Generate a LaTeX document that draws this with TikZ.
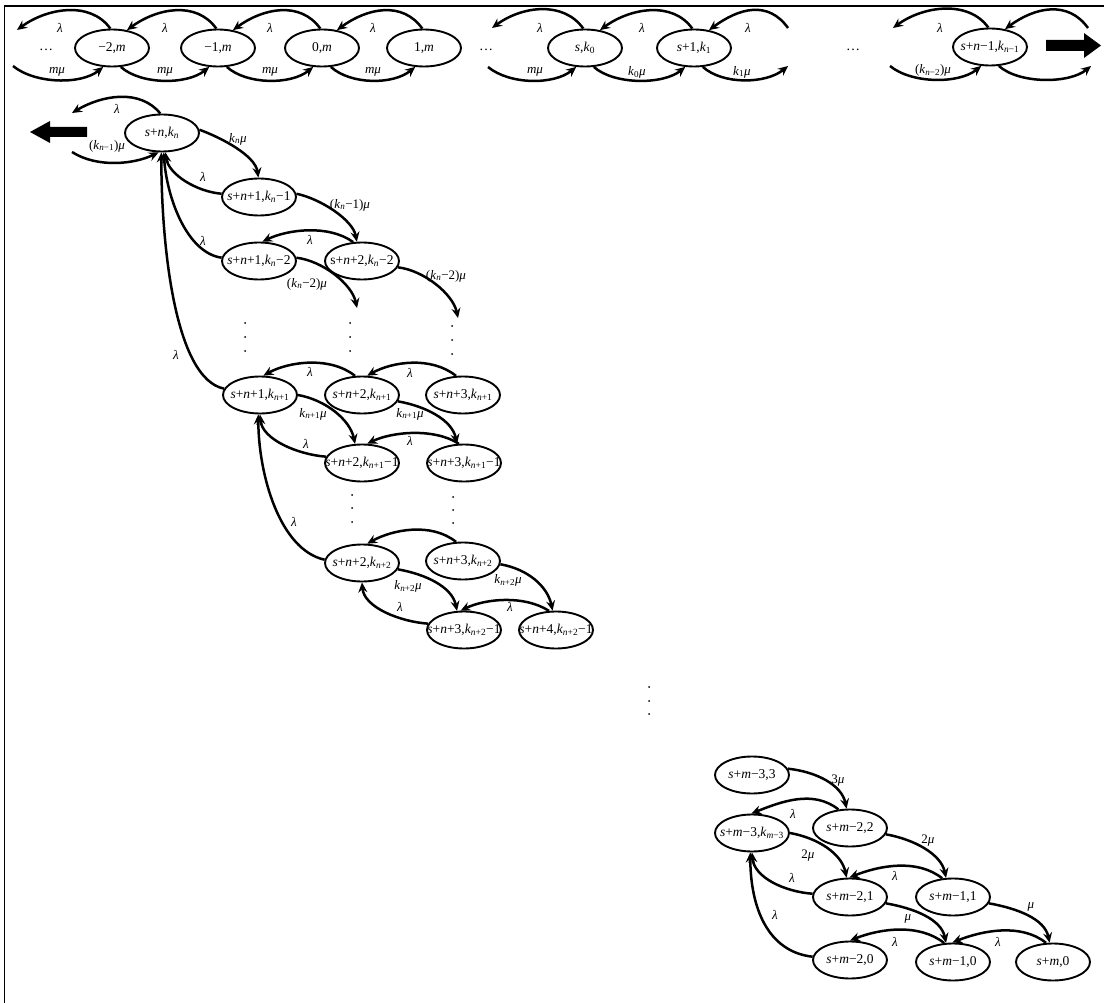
\documentclass[tikz,border=0pt]{standalone}
\usepackage{fontspec}
\setmainfont{Liberation Serif}
\usetikzlibrary{arrows.meta,shapes.geometric}
\newcommand{\iv}[1]{\textit{#1}}
\newcommand{\sbs}[1]{\textsubscript{#1}}
\newcommand{\lmb}{\textit{λ}}
\newcommand{\mmu}{\textit{μ}}
\newcommand{\nt}[1]{\makebox[0pt]{#1}}
\begin{document}
\begin{tikzpicture}[x=1pt,y=-1pt,
  st/.style={ellipse, draw, line width=1.9pt, minimum width=74pt, minimum height=37pt, inner sep=0pt, font=\fontsize{13.5}{15}\selectfont},
  ar/.style={line width=2.5pt, -{Stealth[length=10pt,width=9pt,inset=3.5pt]}},
  lb/.style={font=\fontsize{13}{15}\selectfont, inner sep=0pt},
  dt/.style={circle, fill, inner sep=0pt, minimum size=2pt},
  hd/.style={font=\fontsize{14}{15}\selectfont, inner sep=0pt}]
\useasboundingbox (0,0) rectangle (1104,1003);
\draw[line width=1.4pt] (4.5,1003) -- (4.5,6) -- (1104,6);

% ---------- top row ----------
\node[st] (T1) at (112,48) {\nt{−2,\iv{m}}};
\node[st] (T2) at (218,48) {\nt{−1,\iv{m}}};
\node[st] (T3) at (322,48) {\nt{0,\iv{m}}};
\node[st] (T4) at (424,48) {\nt{1,\iv{m}}};
\node[st] (T5) at (585,48) {\nt{\iv{s},\iv{k}\sbs{0}}};
\node[st] (T6) at (694,48) {\nt{\iv{s}+1,\iv{k}\sbs{1}}};
\node[st] (T7) at (990,47) {\nt{\iv{s}+\iv{n}−1,\iv{k}\sbs{\iv{n}−1}}};
\node[hd] (d1) at (46,50) {…};
\node[hd] (d2) at (486,50) {…};
\node[hd] (d3) at (853,50) {…};

\coordinate (f1) at (17,30);  \coordinate (f2) at (13,66);
\coordinate (f3) at (492,28); \coordinate (f4) at (488,67);
\coordinate (f5) at (788,28); \coordinate (f6) at (788,66);
\coordinate (f7) at (893,28); \coordinate (f8) at (890,66);
\coordinate (f9) at (1088,28); \coordinate (f10) at (1091,66);

\draw[ar] (T1.95) .. controls +(-20,-28) and +(30,-22) .. (f1);
\draw[ar] (f2) .. controls +(22,18) and +(-22,18) .. (T1.-115);
\draw[ar] (T2.95) .. controls +(-20,-28) and +(30,-22) .. (T1.50);
\draw[ar] (T1.-65) .. controls +(20,18) and +(-22,18) .. (T2.-115);
\draw[ar] (T3.95) .. controls +(-20,-28) and +(30,-22) .. (T2.50);
\draw[ar] (T2.-65) .. controls +(20,18) and +(-22,18) .. (T3.-115);
\draw[ar] (T4.95) .. controls +(-20,-28) and +(30,-22) .. (T3.50);
\draw[ar] (T3.-65) .. controls +(20,18) and +(-22,18) .. (T4.-115);
\draw[ar] (T5.95) .. controls +(-20,-28) and +(30,-22) .. (f3);
\draw[ar] (f4) .. controls +(22,18) and +(-22,18) .. (T5.-115);
\draw[ar] (T6.95) .. controls +(-20,-28) and +(30,-22) .. (T5.50);
\draw[ar] (T5.-65) .. controls +(20,18) and +(-22,18) .. (T6.-115);
\draw[ar] (f5) .. controls +(-20,-28) and +(30,-22) .. (T6.50);
\draw[ar] (T6.-65) .. controls +(20,18) and +(-22,18) .. (f6);
\draw[ar] (T7.95) .. controls +(-20,-28) and +(30,-22) .. (f7);
\draw[ar] (f8) .. controls +(22,18) and +(-22,18) .. (T7.-115);
\draw[ar] (f9) .. controls +(-20,-28) and +(30,-22) .. (T7.50);
\draw[ar] (T7.-65) .. controls +(20,18) and +(-22,18) .. (f10);

\node[lb] (l1) at (60,28) {\lmb};
\node[lb] (l2) at (57,72) {\iv{m}\mmu};
\node[lb] (l3) at (165,28) {\lmb};
\node[lb] (l4) at (165,72) {\iv{m}\mmu};
\node[lb] (l5) at (270,28) {\lmb};
\node[lb] (l6) at (270,72) {\iv{m}\mmu};
\node[lb] (l7) at (373,28) {\lmb};
\node[lb] (l8) at (373,72) {\iv{m}\mmu};
\node[lb] (l9) at (540,28) {\lmb};
\node[lb] (l10) at (535,72) {\iv{m}\mmu};
\node[lb] (l11) at (642,28) {\lmb};
\node[lb] (l12) at (637,72) {\iv{k}\sbs{0}\mmu};
\node[lb] (l13) at (748,28) {\lmb};
\node[lb] (l14) at (742,72) {\iv{k}\sbs{1}\mmu};
\node[lb] (l15) at (940,28) {\lmb};
\node[lb] (l16) at (933,70) {(\iv{k}\sbs{\iv{n}−2})\mmu};

\fill (1046,40) -- (1084,40) -- (1084,33) -- (1101,45.5) -- (1084,58) -- (1084,51) -- (1046,51) -- cycle;
\fill (87,127) -- (50,127) -- (50,121) -- (30,132) -- (50,143) -- (50,137) -- (87,137) -- cycle;

% ---------- middle ----------
\node[st] (M0) at (162,133) {\nt{\iv{s}+\iv{n},\iv{k}\sbs{\iv{n}}}};
\node[st] (A1) at (259,197) {\nt{\iv{s}+\iv{n}+1,\iv{k}\sbs{\iv{n}}−1}};
\node[st] (A2) at (259,261) {\nt{\iv{s}+\iv{n}+1,\iv{k}\sbs{\iv{n}}−2}};
\node[st] (B2) at (362,261) {\nt{s+\iv{n}+2,\iv{k}\sbs{\iv{n}}−2}};
\node[st] (C1) at (260,395) {\nt{\iv{s}+\iv{n}+1,\iv{k}\sbs{\iv{n}+1}}};
\node[st] (C2) at (362,395) {\nt{\iv{s}+\iv{n}+2,\iv{k}\sbs{\iv{n}+1}}};
\node[st] (C3) at (463,395) {\nt{\iv{s}+\iv{n}+3,\iv{k}\sbs{\iv{n}+1}}};
\node[st] (D2) at (362,463) {\nt{\iv{s}+\iv{n}+2,\iv{k}\sbs{\iv{n}+1}−1}};
\node[st] (D3) at (464,463) {\nt{\iv{s}+\iv{n}+3,\iv{k}\sbs{\iv{n}+1}−1}};
\node[st] (E2) at (362,563) {\nt{\iv{s}+\iv{n}+2,\iv{k}\sbs{\iv{n}+2}}};
\node[st] (E3) at (463,561) {\nt{\iv{s}+\iv{n}+3,\iv{k}\sbs{\iv{n}+2}}};
\node[st] (F3) at (464,630) {\nt{\iv{s}+\iv{n}+3,\iv{k}\sbs{\iv{n}+2}−1}};
\node[st] (F4) at (556,630) {\nt{\iv{s}+\iv{n}+4,\iv{k}\sbs{\iv{n}+2}−1}};

\coordinate (g1) at (72,113); \coordinate (g2) at (72,152);
\coordinate (g3) at (357,308); \coordinate (g4) at (458,318);

\draw[ar] (M0.95) .. controls +(-20,-25) and +(30,-18) .. (g1);
\draw[ar] (g2) .. controls +(25,16) and +(-25,12) .. (M0.-100);
\draw[ar] (M0.5) .. controls +(22,8) and +(-3,-22) .. (A1.92);
\draw[ar] (A1.175) .. controls +(-25,-2) and +(3,22) .. (M0.-80);
\draw[ar] (A2.175) .. controls +(-35,-5) and +(3,45) .. (M0.-85);
\draw[ar] (C1.170) .. controls +(-50,-10) and +(0,90) .. (M0.-92);
\draw[ar] (A1.5) .. controls +(24,5) and +(-4,-22) .. (B2.105);
\draw[ar] (B2.115) .. controls +(-25,-18) and +(25,-12) .. (A2.80);
\draw[ar] (A2.5) .. controls +(26,3) and +(-5,-24) .. (g3);
\draw[ar] (B2.-10) .. controls +(26,3) and +(-5,-24) .. (g4);
\draw[ar] (C2.110) .. controls +(-25,-20) and +(25,-14) .. (C1.80);
\draw[ar] (C3.110) .. controls +(-25,-20) and +(25,-14) .. (C2.75);
\draw[ar] (C1.0) .. controls +(28,5) and +(-5,-24) .. (D2.110);
\draw[ar] (C2.-10) .. controls +(28,5) and +(-5,-24) .. (D3.110);
\draw[ar] (D3.105) .. controls +(-25,-16) and +(25,-12) .. (D2.75);
\draw[ar] (D2.170) .. controls +(-28,-2) and +(2,25) .. (C1.-90);
\draw[ar] (E2.175) .. controls +(-45,-10) and +(0,60) .. (C1.-95);
\draw[ar] (E3.110) .. controls +(-25,-20) and +(25,-14) .. (E2.75);
\draw[ar] (E2.-10) .. controls +(28,5) and +(-5,-24) .. (F3.110);
\draw[ar] (E3.-5) .. controls +(28,5) and +(-5,-24) .. (F4.100);
\draw[ar] (F4.110) .. controls +(-25,-16) and +(25,-12) .. (F3.100);
\draw[ar] (F3.170) .. controls +(-28,-2) and +(2,25) .. (E2.-90);

\node[lb] (m1) at (117,109) {\lmb};
\node[lb] (m2) at (107,146) {(\iv{k}\sbs{\iv{n}−1})\mmu};
\node[lb] (m3) at (238,139) {\iv{k}\sbs{\iv{n}}\mmu};
\node[lb] (m4) at (203,177) {\lmb};
\node[lb] (m5) at (203,241) {\lmb};
\node[lb] (m6) at (176,355) {\lmb};
\node[lb] (m7) at (350,205) {(\iv{k}\sbs{\iv{n}}−1)\mmu};
\node[lb] (m8) at (310,240) {\lmb};
\node[lb] (m9) at (307,284) {(\iv{k}\sbs{\iv{n}}−2)\mmu};
\node[lb] (m10) at (446,276) {(\iv{k}\sbs{\iv{n}}−2)\mmu};
\node[lb] (m11) at (310,372) {\lmb};
\node[lb] (m12) at (410,373) {\lmb};
\node[lb] (m13) at (313,414) {\iv{k}\sbs{\iv{n}+1}\mmu};
\node[lb] (m14) at (410,414) {\iv{k}\sbs{\iv{n}+1}\mmu};
\node[lb] (m15) at (410,441) {\lmb};
\node[lb] (m16) at (306,444) {\lmb};
\node[lb] (m17) at (294,522) {\lmb};
\node[lb] (m18) at (408,586) {\iv{k}\sbs{\iv{n}+2}\mmu};
\node[lb] (m19) at (508,580) {\iv{k}\sbs{\iv{n}+2}\mmu};
\node[lb] (m20) at (510,607) {\lmb};
\node[lb] (m21) at (400,607) {\lmb};

% vertical dots
\foreach \n/\x/\y in {a/245/323, b/245/337, c/245/351,
                      d/350/323, e/350/337, f/350/351,
                      g/452/326, h/452/340, i/452/354,
                      j/352/495, k/352/508, l/352/522,
                      m/453/497, n/453/510, o/453/523,
                      p/649/687, q/649/701, r/649/714}
  \node[dt] (v\n) at (\x,\y) {};

% ---------- bottom right ----------
\node[st] (G1) at (752,775) {\nt{\iv{s}+\iv{m}−3,3}};
\node[st] (G2) at (752,833) {\nt{\iv{s}+\iv{m}−3,\iv{k}\sbs{\iv{m}−3}}};
\node[st] (H1) at (850,828) {\nt{\iv{s}+\iv{m}−2,2}};
\node[st] (H2) at (850,897) {\nt{\iv{s}+\iv{m}−2,1}};
\node[st] (H3) at (850,960) {\nt{\iv{s}+\iv{m}−2,0}};
\node[st] (I2) at (953,897) {\nt{\iv{s}+\iv{m}−1,1}};
\node[st] (I3) at (953,962) {\nt{\iv{s}+\iv{m}−1,0}};
\node[st] (J3) at (1053,962) {\nt{\iv{s}+\iv{m},0}};

\draw[ar] (G1.10) .. controls +(28,3) and +(-5,-24) .. (H1.100);
\draw[ar] (H1.122) .. controls +(-25,-20) and +(30,-12) .. (G2.92);
\draw[ar] (H1.-10) .. controls +(28,5) and +(-5,-24) .. (I2.110);
\draw[ar] (G2.0) .. controls +(28,5) and +(-5,-24) .. (H2.100);
\draw[ar] (I2.120) .. controls +(-25,-20) and +(30,-12) .. (H2.92);
\draw[ar] (H2.175) .. controls +(-28,-2) and +(2,25) .. (G2.-90);
\draw[ar] (H2.-10) .. controls +(28,5) and +(-5,-24) .. (I3.110);
\draw[ar] (I2.-10) .. controls +(28,5) and +(-5,-24) .. (J3.100);
\draw[ar] (I3.115) .. controls +(-25,-20) and +(30,-12) .. (H3.90);
\draw[ar] (J3.110) .. controls +(-25,-20) and +(30,-12) .. (I3.92);
\draw[ar] (H3.175) .. controls +(-45,-5) and +(0,55) .. (G2.-95);

\node[lb] (b1) at (838,781) {3\mmu};
\node[lb] (b2) at (793,814) {\lmb};
\node[lb] (b3) at (928,841) {2\mmu};
\node[lb] (b4) at (808,856) {2\mmu};
\node[lb] (b5) at (895,876) {\lmb};
\node[lb] (b6) at (792,878) {\lmb};
\node[lb] (b7) at (908,919) {\mmu};
\node[lb] (b8) at (1031,907) {\mmu};
\node[lb] (b9) at (895,942) {\lmb};
\node[lb] (b10) at (998,942) {\lmb};
\node[lb] (b11) at (775,915) {\lmb};
\end{tikzpicture}
\end{document}
